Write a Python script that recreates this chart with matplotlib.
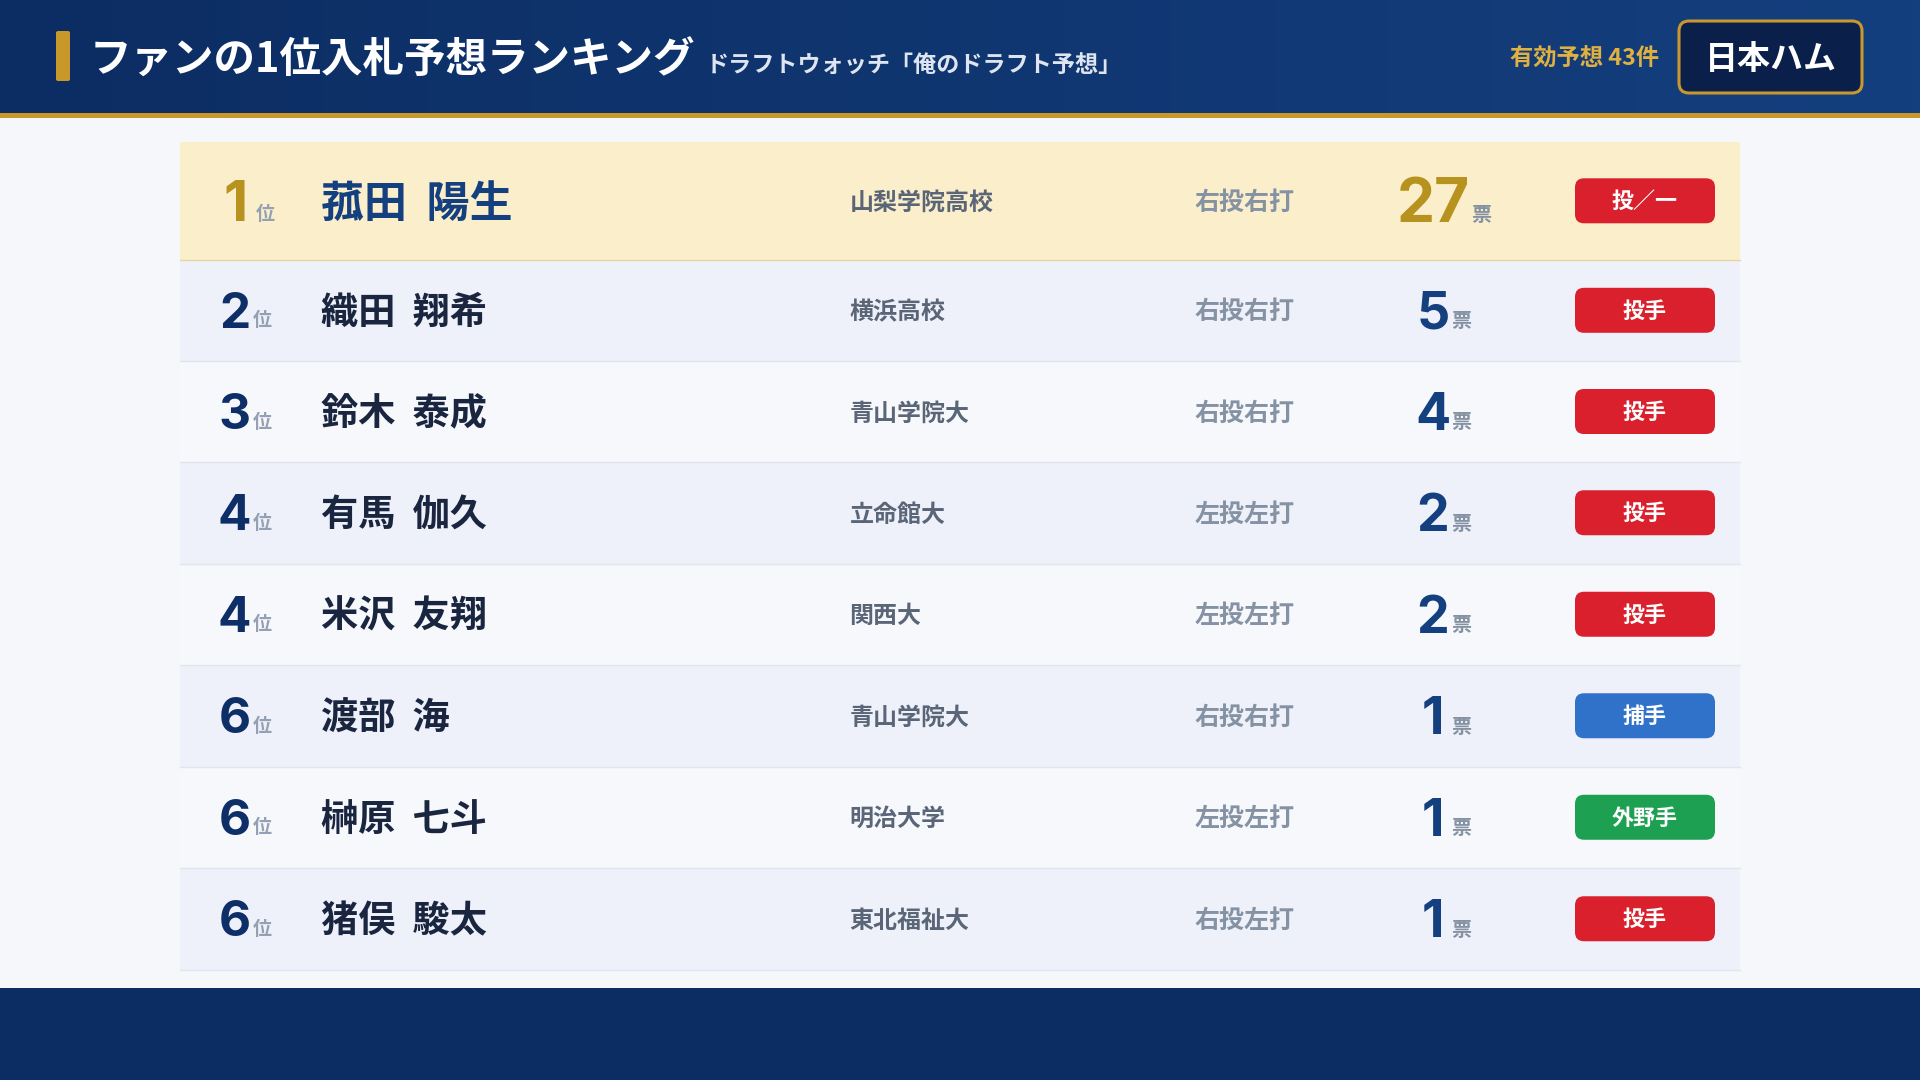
#!/usr/bin/env python3
"""Draft ranking board: fan predictions for the first-round pick."""
import matplotlib
matplotlib.use("Agg")
import matplotlib.pyplot as plt
import numpy as np
from matplotlib.colors import LinearSegmentedColormap
from matplotlib.patches import FancyBboxPatch, Rectangle

JP = ["Noto Sans CJK JP", "DejaVu Sans"]
NUM = ["Inter", "DejaVu Sans"]

TITLE = "ファンの1位入札予想ランキング"
SUBTITLE = "ドラフトウォッチ「俺のドラフト予想」"
COUNT_LABEL = "有効予想 43件"
TEAM = "日本ハム"

ranks = [1, 2, 3, 4, 4, 6, 6, 6]
names = ["菰田 陽生", "織田 翔希", "鈴木 泰成", "有馬 伽久", "米沢 友翔", "渡部 海", "榊原 七斗", "猪俣 駿太"]
schools = ["山梨学院高校", "横浜高校", "青山学院大", "立命館大", "関西大", "青山学院大", "明治大学", "東北福祉大"]
hands = ["右投右打", "右投右打", "右投右打", "左投左打", "左投左打", "右投右打", "左投左打", "右投左打"]
votes = [27, 5, 4, 2, 2, 1, 1, 1]
positions = ["投／一", "投手", "投手", "投手", "投手", "捕手", "外野手", "投手"]

POS_COLOR = {"投／一": "#d9202c", "投手": "#d9202c", "捕手": "#3072c9", "外野手": "#1ea052"}
NAVY, BLUE, GOLD = "#0d2e66", "#14407f", "#b8921e"
ROW_EDGES = [142, 259.6, 361, 462, 563.5, 665, 766.5, 868, 969.5]


def label(ax, x, y, s, px, color, family=JP, ha="left", weight="bold"):
    # px is the CSS-like font size, y the baseline
    return ax.text(x, y, s, fontsize=px * 0.72, color=color, family=family,
                   ha=ha, va="baseline", weight=weight)


def rbox(ax, x0, y0, x1, y1, r, fc, ec="none", lw=0):
    ax.add_patch(FancyBboxPatch((x0 + r, y0 + r), x1 - x0 - 2 * r, y1 - y0 - 2 * r,
                                boxstyle=f"round,pad={r},rounding_size={r}",
                                fc=fc, ec=ec, lw=lw, zorder=3))


fig = plt.figure(figsize=(19.2, 10.8), dpi=100, facecolor="#f5f7fb")
ax = fig.add_axes([0, 0, 1, 1])
ax.set_xlim(0, 1920); ax.set_ylim(1080, 0); ax.axis("off")

# ---- header + footer ----
cmap = LinearSegmentedColormap.from_list("hdr", ["#0c2d63", "#143f7e"])
ax.imshow(np.linspace(0, 1, 256)[None, :], extent=(0, 1920, 113, 0), cmap=cmap, aspect="auto", zorder=1)
ax.set_xlim(0, 1920); ax.set_ylim(1080, 0)
ax.add_patch(Rectangle((0, 113), 1920, 5, fc="#c8982a", ec="none", zorder=2))
ax.add_patch(Rectangle((0, 988), 1920, 92, fc="#0c2d63", ec="none", zorder=2))
rbox(ax, 56, 31, 70, 81, 2, "#c8982a")
label(ax, 90, 73, TITLE, 41.5, "white").set_zorder(4)
label(ax, 706, 73, SUBTITLE, 23.1, "#dfe5f0").set_zorder(4)
label(ax, 1659, 65, COUNT_LABEL, 23.3, "#e0b040", ha="right").set_zorder(4)
rbox(ax, 1679, 21, 1862, 93, 10, "#0a1f4a", "#c8982f", 2.2)
label(ax, 1771, 69, TEAM, 33, "white", ha="center").set_zorder(4)

# ---- rows ----
for i in range(len(ranks)):
    top, bot = ROW_EDGES[i], ROW_EDGES[i + 1]
    cy = (top + bot) / 2
    first = i == 0
    bg = "#fbeeca" if first else ("#eef1f9" if i % 2 else "#f6f8fc")
    ax.add_patch(Rectangle((180, top), 1560, bot - top, fc=bg, ec="none", zorder=1))
    ax.plot([180, 1740], [bot, bot], color="#e8d59a" if first else "#e0e5ee", lw=1.0, zorder=2)

    num_color = GOLD if first else NAVY

    # rank, digit centred in a fixed-width slot so the unit stays put
    rank_px, rank_adv, base = (56, 32, cy + 20.5) if first else (49.5, 29, cy + 17.5)
    label(ax, 220 + rank_adv / 2, base, str(ranks[i]), rank_px, num_color, NUM, ha="center")
    label(ax, 220 + rank_adv + 3.5, base - 1.5, "位", 19, "#94a0b4")

    # name / school / hands
    name_px = 43 if first else 37.2
    label(ax, 321, cy - 0.5 + name_px * 0.38, names[i].replace(" ", "  "), name_px, BLUE if first else "#1a2540")
    label(ax, 849.5, cy + 9, schools[i], 24, "#5a6678")
    label(ax, 1194.5, cy + 9, hands[i], 25, "#8592a3")

    # votes, digit + unit centred on the column
    vote_px, adv, vbase = (60.5, 34.5, cy + 21.5) if first else (52, 29, cy + 18.5)
    vtxt = str(votes[i])
    vw = len(vtxt) * adv
    vx = 1445 - (vw + 4 + 20) / 2
    label(ax, vx + vw / 2, vbase, vtxt, vote_px, GOLD if first else BLUE, NUM, ha="center")
    label(ax, vx + vw + 4, vbase - 1.5, "票", 20, "#8592a3")

    # position badge
    rbox(ax, 1575, cy - 22.5, 1715, cy + 22.5, 9, POS_COLOR[positions[i]])
    label(ax, 1645, cy + 7.5, positions[i], 22, "white", ha="center").set_zorder(4)

fig.savefig("out.png", dpi=100, facecolor=fig.get_facecolor())
